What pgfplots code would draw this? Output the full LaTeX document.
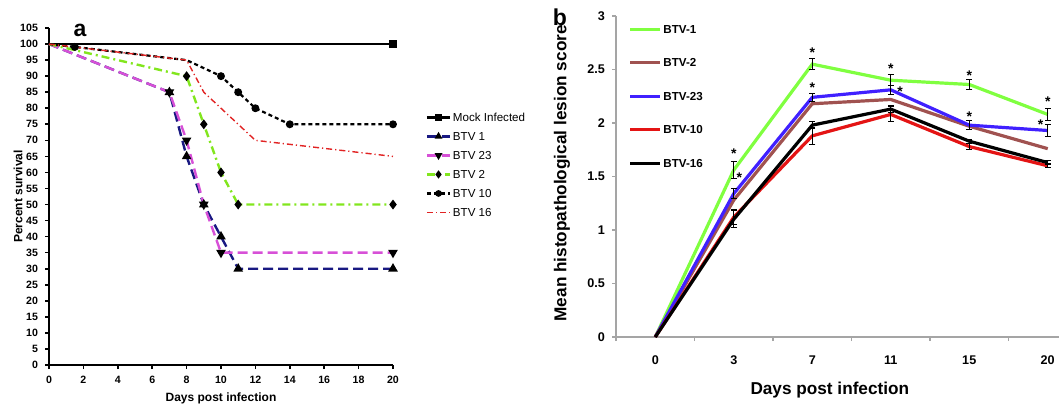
\documentclass[border=0pt]{standalone}
\usepackage{fontspec}
\setmainfont{Liberation Sans}
\usepackage{pgfplots}
\usepackage{pgfplotstable}
\pgfplotsset{compat=1.18}

\definecolor{navyline}{RGB}{25,25,130}
\definecolor{magline}{RGB}{215,80,215}
\definecolor{limeline}{RGB}{130,230,30}
\definecolor{redline}{RGB}{225,35,35}
\definecolor{bgreen}{RGB}{128,255,64}
\definecolor{bbrown}{RGB}{160,82,80}
\definecolor{bblue}{RGB}{64,32,255}
\definecolor{bred}{RGB}{228,20,20}
\definecolor{axgray}{RGB}{165,165,165}

% panel b: mean lesion score, x = category index (0,3,7,11,15,20 dpi)
\pgfplotstableread{
x y e
0 0 0
1 1.56 0.08
2 2.55 0.05
3 2.40 0.05
4 2.36 0.05
5 2.08 0.06
}\btvone
\pgfplotstableread{
x y e
0 0 0
1 1.28 0.07
2 2.18 0.04
3 2.22 0.04
4 1.97 0.03
5 1.76 0.02
}\btvtwo
\pgfplotstableread{
x y e
0 0 0
1 1.34 0.05
2 2.24 0.04
3 2.31 0.04
4 1.98 0.04
5 1.93 0.06
}\btvtwentythree
\pgfplotstableread{
x y e
0 0 0
1 1.12 0.07
2 1.88 0.08
3 2.08 0.07
4 1.78 0.03
5 1.60 0.02
}\btvten
\pgfplotstableread{
x y e
0 0 0
1 1.10 0.08
2 1.98 0.03
3 2.13 0.03
4 1.83 0.02
5 1.63 0.02
}\btvsixteen

\pgfplotsset{
  bk/.style={mark options={solid, fill=black, draw=black}},
  errs/.style={forget plot, only marks, mark=*, mark size=0pt,
    mark options={draw opacity=0, fill opacity=0}, restrict x to domain=0.5:6,
    error bars/.cd, y dir=both, y explicit, error mark=-,
    error bar style={draw=black, line width=0.5pt},
    error mark options={rotate=90, draw=black, draw opacity=1, mark size=1.5pt, line width=0.5pt}},
}

\begin{document}
\begin{tikzpicture}
\useasboundingbox (0,0) rectangle (529.5pt,-201.5pt);
\node[font=\fontsize{11.5}{12}\selectfont\bfseries] at (40pt,-15pt) {a};
\node[font=\fontsize{11.5}{12}\selectfont\bfseries] at (280pt,-8.5pt) {b};

% ---- panel a: survival ----
\begin{axis}[
  at={(24.5pt,-182.5pt)}, anchor=south west,
  scale only axis, width=172pt, height=168.5pt,
  xmin=0, xmax=20, ymin=0, ymax=105,
  xtick={0,2,...,20}, ytick={0,5,...,105},
  axis lines*=left, axis line style={line width=1pt},
  tick align=outside, major tick length=2pt,
  tick style={black, line width=0.8pt},
  ticklabel style={font=\fontsize{5.3}{6}\selectfont\bfseries},
  /pgf/number format/assume math mode=true,
  xlabel={Days post infection}, ylabel={Percent survival},
  label style={font=\fontsize{6}{7}\selectfont\bfseries},
  xlabel style={at={(axis description cs:0.5,-0.098)}, anchor=center},
  ylabel style={at={(axis description cs:-0.09,0.5)}, anchor=center},
  clip=false,
  legend style={at={(1.094,0.753)}, anchor=north west, draw=none, fill=none,
    inner sep=0pt, font=\fontsize{5.8}{6}\selectfont, row sep=3.7pt,
    nodes={inner sep=0.8pt, text height=4.2pt, text depth=0pt}},
  legend cell align=left,
  legend image code/.code={\draw[mark indices={2}, mark size=1.1pt] plot coordinates {(0pt,0pt) (5.8pt,0pt) (11.6pt,0pt)};},
]
\addplot[black, line width=1.2pt, mark=square*, mark size=1.4pt, bk, mark indices={2}]
  coordinates {(0,100) (20,100)};
\addlegendentry{Mock Infected}
\addplot[navyline, line width=1.2pt, dash pattern=on 5pt off 2.5pt, mark=triangle*, mark size=1.6pt, bk, mark indices={2,3,4,5,6,7}]
  coordinates {(0,100) (7,85) (8,65) (9,50) (10,40) (11,30) (20,30)};
\addlegendentry{BTV 1}
\addplot[magline, line width=1.2pt, dash pattern=on 5pt off 2.5pt, mark=triangle*, mark size=1.6pt,
  mark options={solid, fill=black, draw=black, rotate=180}, mark indices={2,3,4,5,6}]
  coordinates {(0,100) (7,85) (8,70) (9,50) (10,35) (20,35)};
\addlegendentry{BTV 23}
\addplot[limeline, line width=1.2pt, dash pattern=on 4pt off 2pt on 1pt off 2pt, mark=diamond*, mark size=1.5pt, bk, mark indices={2,3,4,5,6}]
  coordinates {(0,100) (8,90) (9,75) (10,60) (11,50) (20,50)};
\addlegendentry{BTV 2}
\addplot[black, line width=1.1pt, dash pattern=on 2pt off 1.5pt, mark=*, mark size=1.4pt, bk, mark indices={2,4,5,6,7,8}]
  coordinates {(0,100) (1.5,99.1) (8,95) (10,90) (11,85) (12,80) (14,75) (20,75)};
\addlegendentry{BTV 10}
\addplot[redline, line width=0.7pt, dash pattern=on 3pt off 1.5pt on 0.6pt off 1.5pt, mark=none]
  coordinates {(0,100) (8,95) (9,85) (12,70) (20,65)};
\addlegendentry{BTV 16}
\end{axis}

% ---- panel b: lesion score ----
\begin{axis}[
  at={(308pt,-168.5pt)}, anchor=south west,
  scale only axis, width=235.5pt, height=160.5pt,
  xmin=-0.5, xmax=5.5, ymin=0, ymax=3,
  axis lines*=left, axis line style={axgray, line width=0.9pt},
  xtick={0,...,5}, xticklabels={0,3,7,11,15,20},
  minor xtick={-0.5,0.5,...,5.5},
  ytick={0,0.5,...,3},
  tick align=outside, major tick length=2pt, minor tick length=2pt,
  major x tick style={draw=none},
  minor x tick style={axgray, line width=0.9pt},
  ytick style={axgray, line width=0.9pt},
  ticklabel style={font=\fontsize{6.3}{7}\selectfont\bfseries},
  xticklabel style={yshift=-4pt},
  /pgf/number format/assume math mode=true,
  xlabel={Days post infection}, ylabel={Mean histopathological lesion score},
  label style={font=\fontsize{8.6}{9}\selectfont\bfseries},
  xlabel style={at={(axis description cs:0.454,-0.165)}, anchor=center},
  ylabel style={at={(axis description cs:-0.115,0.51)}, anchor=center},
  clip=false,
  legend style={at={(0.026,0.978)}, anchor=north west, draw=none, fill=none,
    inner sep=0pt, font=\fontsize{5.8}{6}\selectfont\bfseries, row sep=10.95pt,
    nodes={inner sep=0.8pt, text height=4.2pt, text depth=0pt}},
  legend cell align=left,
  legend image code/.code={\draw (0pt,0pt) -- (15pt,0pt);},
]
\addplot[bgreen, line width=1.6pt] table[x=x, y=y] {\btvone};
\addlegendentry{BTV-1}
\addplot[bbrown, line width=1.6pt] table[x=x, y=y] {\btvtwo};
\addlegendentry{BTV-2}
\addplot[bblue, line width=1.6pt] table[x=x, y=y] {\btvtwentythree};
\addlegendentry{BTV-23}
\addplot[bred, line width=1.6pt] table[x=x, y=y] {\btvten};
\addlegendentry{BTV-10}
\addplot[black, line width=1.6pt] table[x=x, y=y] {\btvsixteen};
\addlegendentry{BTV-16}

\addplot[errs] table[x=x, y=y, y error=e] {\btvone};
\addplot[errs] table[x=x, y=y, y error=e] {\btvtwentythree};
\addplot[errs] table[x=x, y=y, y error=e] {\btvten};
\addplot[errs] table[x=x, y=y, y error=e] {\btvsixteen};

% significance asterisks
\addplot[forget plot, only marks, mark=text,
  text mark={\fontsize{7}{7}\selectfont\bfseries *},
  text mark style={y=-1.3pt}]
  coordinates {(1,1.74) (1.07,1.51) (2,2.68) (2,2.35) (3,2.53) (3.12,2.32)
               (4,2.47) (4,2.08) (5,2.22) (4.91,2.01)};
\end{axis}
\end{tikzpicture}
\end{document}
